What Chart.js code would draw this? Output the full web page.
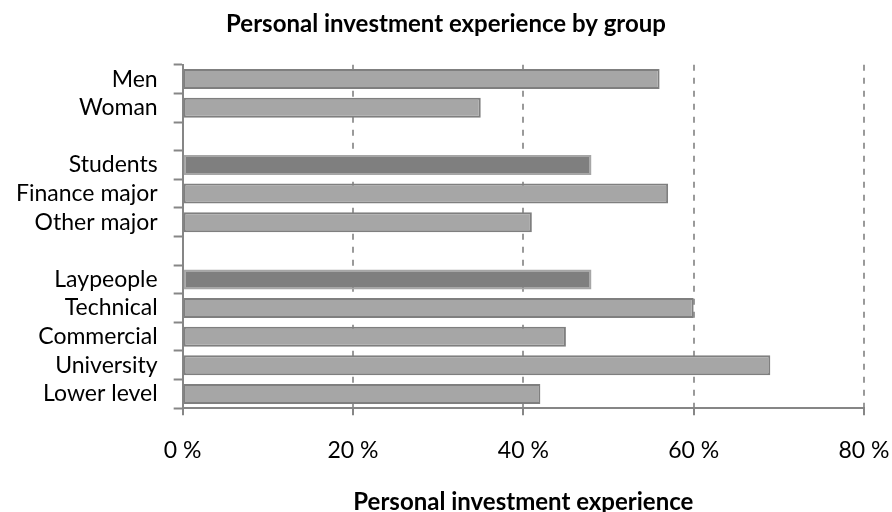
<!DOCTYPE html>
<html>
<head>
<meta charset="utf-8">
<script src="https://cdn.jsdelivr.net/npm/chart.js@4.4.1/dist/chart.umd.min.js"></script>
<style>
  html, body { margin: 0; padding: 0; background: #fff; }
  #wrap { width: 892px; height: 512px; }
</style>
</head>
<body>
<div id="wrap"><canvas id="chart-inversion"></canvas></div>
<script>
// groups, blank rows ('') separate the three blocks
var grupos = ['Men', 'Woman', '', 'Students', 'Finance major', 'Other major', '',
              'Laypeople', 'Technical', 'Commercial', 'University', 'Lower level']
// share with personal investment experience, in %
var experiencia = [56, 35, null, 48, 57, 41, null, 48, 60, 45, 69, 42]
// rows that are totals of their block get the darker fill
var totales = ['Students', 'Laypeople']
var ticks_x = [0, 20, 40, 60, 80]

var COLORES = {
    "barra": "#a6a6a6",
    "barra_borde": "#7f7f7f",
    "total": "#7f7f7f",
    "total_borde": "#a6a6a6",
    "eje": "#868686",
    "grid": "#9a9a9a",
}

var FUENTE = "Lato, 'Open Sans', sans-serif"

var chart = new Chart(document.getElementById('chart-inversion'), {
    type: 'bar',
    data: {
        labels: grupos,
        datasets: [{
            data: experiencia,
            backgroundColor: grupos.map(g => totales.includes(g) ? COLORES.total : COLORES.barra),
            borderColor: grupos.map(g => totales.includes(g) ? COLORES.total_borde : COLORES.barra_borde),
            borderWidth: 2,
            borderSkipped: false,
            categoryPercentage: 1,
            barPercentage: 0.7,
        }],
    },
    options: {
        indexAxis: 'y',
        responsive: true,
        maintainAspectRatio: false,
        animation: false,
        layout: { padding: { left: 0, right: 0, top: 0, bottom: 0 } },
        plugins: {
            legend: { display: false },
            tooltip: { enabled: false },
            title: {
                display: true,
                text: 'Personal investment experience by group',
                color: '#000',
                font: { family: FUENTE, size: 24, weight: 'bold' },
                padding: { top: 10, bottom: 26 },
            },
        },
        scales: {
            x: {
                min: 0,
                max: 80,
                afterBuildTicks: function(axis) {
                    axis.ticks = ticks_x.map(v => ({ value: v }))
                },
                // leave room on the right for the last tick label
                afterFit: function(axis) {
                    axis.paddingRight = 28
                },
                ticks: {
                    color: '#000',
                    font: { family: FUENTE, size: 23 },
                    padding: 22,
                    callback: v => v + ' %',
                },
                grid: {
                    color: ctx => ctx.tick && ctx.tick.value === 0 ? 'rgba(0,0,0,0)' : COLORES.grid,
                    lineWidth: 2,
                    tickLength: 7,
                    tickColor: COLORES.eje,
                    tickWidth: 2,
                },
                border: { color: COLORES.eje, width: 2, dash: [6, 7] },
                title: {
                    display: true,
                    text: 'Personal investment experience',
                    color: '#000',
                    font: { family: FUENTE, size: 24, weight: 'bold', lineHeight: 0.8 },
                    padding: { top: 6, bottom: 0 },
                },
            },
            y: {
                offset: true,
                ticks: {
                    color: '#000',
                    font: { family: FUENTE, size: 23 },
                    padding: 16,
                    autoSkip: false,
                },
                grid: {
                    offset: true,
                    drawOnChartArea: false,
                    tickLength: 9,
                    tickColor: COLORES.eje,
                    tickWidth: 2,
                },
                border: { color: COLORES.eje, width: 2 },
            },
        },
    },
})
</script>
</body>
</html>
